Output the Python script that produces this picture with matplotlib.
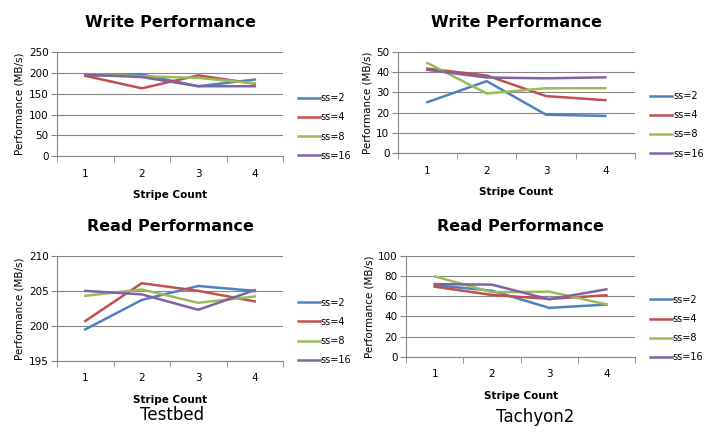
import matplotlib.pyplot as plt
import numpy as np

# Stripe count categories
stripe_count = [1, 2, 3, 4]
series_names = ['ss=2', 'ss=4', 'ss=8', 'ss=16']
colors = ['#4F81BD', '#C0504D', '#9BBB59', '#8064A2']

# Testbed write performance (MB/s)
tb_write_ss2 = [193, 196, 168, 184]
tb_write_ss4 = [193, 163, 194, 174]
tb_write_ss8 = [197, 192, 188, 175]
tb_write_ss16 = [196, 190, 168, 168]

# Tachyon2 write performance (MB/s)
ty_write_ss2 = [25.2, 35.6, 19.0, 18.4]
ty_write_ss4 = [41.8, 38.4, 28.2, 26.2]
ty_write_ss8 = [44.6, 29.5, 32.1, 32.1]
ty_write_ss16 = [41.2, 37.4, 37.0, 37.5]

# Testbed read performance (MB/s)
tb_read_ss2 = [199.5, 203.7, 205.7, 205.0]
tb_read_ss4 = [200.7, 206.1, 205.0, 203.5]
tb_read_ss8 = [204.3, 205.2, 203.3, 204.2]
tb_read_ss16 = [205.0, 204.5, 202.3, 205.1]

# Tachyon2 read performance (MB/s)
ty_read_ss2 = [71, 65.5, 48.5, 51.8]
ty_read_ss4 = [69.5, 61.3, 57.4, 61]
ty_read_ss8 = [79.7, 64, 64.6, 52]
ty_read_ss16 = [72.1, 71.5, 57, 66.9]

grid_color = '#868686'


def draw_panel(ax, series, title, ylim, yticks):
    for vals, name, c in zip(series, series_names, colors):
        ax.plot(stripe_count, vals, color=c, lw=1.8, label=name)
    ax.set_xlim(0.5, 4.5)
    ax.set_ylim(*ylim)
    ax.set_yticks(yticks)
    ax.set_xticks(stripe_count)
    ax.set_xticks(np.arange(0.5, 5.0, 1.0), minor=True)
    ax.tick_params(axis='x', which='major', length=0, pad=9, labelsize=7.5)
    ax.tick_params(axis='x', which='minor', length=4, color=grid_color, direction='out')
    ax.tick_params(axis='y', length=4, color=grid_color, labelsize=7.5, pad=2)
    ax.yaxis.grid(True, color=grid_color, lw=0.8)
    ax.set_axisbelow(True)
    for s in ['top', 'right']:
        ax.spines[s].set_visible(False)
    for s in ['left', 'bottom']:
        ax.spines[s].set_color(grid_color)
        ax.spines[s].set_linewidth(0.8)
    ax.set_ylabel('Performance (MB/s)', fontsize=7.5, labelpad=3)
    ax.set_xlabel('Stripe Count', fontsize=7.5, fontweight='bold', labelpad=8)
    ax.set_title(title, fontsize=11.5, fontweight='bold', pad=18)
    ax.legend(loc='center left', bbox_to_anchor=(1.035, 0.28), frameon=False,
              fontsize=7, handlelength=2.3, handletextpad=0.05, labelspacing=0.95,
              borderaxespad=0.3)


fig = plt.figure(figsize=(7.04, 4.45), dpi=100)

ax1 = fig.add_axes([0.081, 0.649, 0.321, 0.234])
draw_panel(ax1, [tb_write_ss2, tb_write_ss4, tb_write_ss8, tb_write_ss16],
           'Write Performance', (0, 250), range(0, 251, 50))

ax2 = fig.add_axes([0.565, 0.656, 0.337, 0.227])
draw_panel(ax2, [ty_write_ss2, ty_write_ss4, ty_write_ss8, ty_write_ss16],
           'Write Performance', (0, 50), range(0, 51, 10))

ax3 = fig.add_axes([0.081, 0.189, 0.321, 0.236])
draw_panel(ax3, [tb_read_ss2, tb_read_ss4, tb_read_ss8, tb_read_ss16],
           'Read Performance', (195, 210), range(195, 211, 5))

ax4 = fig.add_axes([0.577, 0.198, 0.325, 0.227])
draw_panel(ax4, [ty_read_ss2, ty_read_ss4, ty_read_ss8, ty_read_ss16],
           'Read Performance', (0, 100), range(0, 101, 20))

fig.text(0.244, 0.067, 'Testbed', fontsize=12, ha='center', va='center')
fig.text(0.76, 0.063, 'Tachyon2', fontsize=12, ha='center', va='center')

fig.savefig('out.png', dpi=100)
